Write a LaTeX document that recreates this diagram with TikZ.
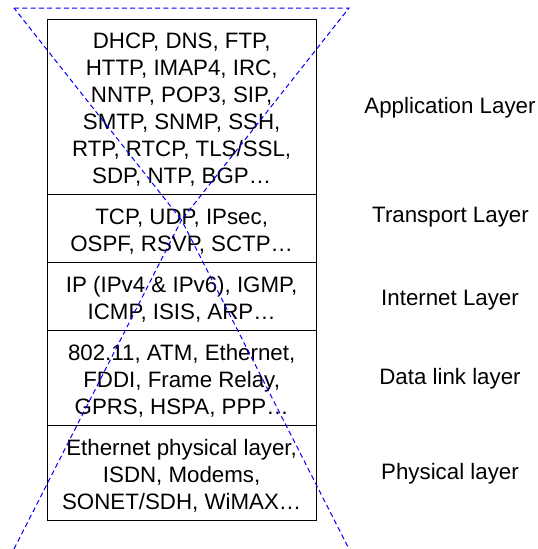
\documentclass[tikz,border=0pt]{standalone}
\usepackage{fontspec}
\setmainfont{Liberation Sans}
\begin{document}
\begin{tikzpicture}[x=1pt,y=-1pt,
  layerbox/.style={draw=black,line width=1pt,minimum width=268.7pt,inner sep=0pt},
  layertext/.style={inner sep=0pt,align=center,yshift=-3pt,font=\fontsize{22.3}{27}\selectfont},
  layerlabel/.style={inner sep=0pt,font=\fontsize{22.3}{27}\selectfont},
  guide/.style={draw=blue,line width=1pt,dash pattern=on 5pt off 3.3pt}]
\useasboundingbox (0,0) rectangle (538,549);
\node[layerbox,minimum height=175.7pt] (app) at (181.65,106.85) {};
\node[layerbox,minimum height=68pt] (trans) at (181.65,228.7) {};
\node[layerbox,minimum height=68pt] (inet) at (181.65,296.7) {};
\node[layerbox,minimum height=95pt] (dl) at (181.65,378.2) {};
\node[layerbox,minimum height=94.3pt] (phy) at (181.65,472.85) {};
\node[layertext] (tapp) at (app.center)
  {DHCP, DNS, FTP,\\HTTP, IMAP4, IRC,\\NNTP, POP3, SIP,\\SMTP, SNMP, SSH,\\RTP, RTCP, TLS/SSL,\\SDP, NTP, BGP…};
\node[layertext] (ttrans) at (trans.center)
  {TCP, UDP, IPsec,\\OSPF, RSVP, SCTP…};
\node[layertext] (tinet) at (inet.center)
  {IP (IPv4 \& IPv6), IGMP,\\ICMP, ISIS, ARP…};
\node[layertext] (tdl) at (dl.center)
  {802.11, ATM, Ethernet,\\FDDI, Frame Relay,\\GPRS, HSPA, PPP…};
\node[layertext] (tphy) at (phy.center)
  {Ethernet physical layer,\\ISDN, Modems,\\SONET/SDH, WiMAX…};
\node[layerlabel] (lapp) at (450,108) {Application Layer};
\node[layerlabel] (ltrans) at (450.5,216.7) {Transport Layer};
\node[layerlabel] (linet) at (450,300) {Internet Layer};
\node[layerlabel] (ldl) at (450,379) {Data link layer};
\node[layerlabel] (lphy) at (450,474) {Physical layer};
\coordinate (tl) at (14,8);
\coordinate (tr) at (349,8);
\coordinate (apex) at (181.5,220);
\coordinate (bl) at (14,549);
\coordinate (br) at (349,549);
\draw[guide] (tl) -- (tr) -- (apex) -- (tl) -- cycle;
\draw[guide] (bl) -- (apex) -- (br);
\end{tikzpicture}
\end{document}
